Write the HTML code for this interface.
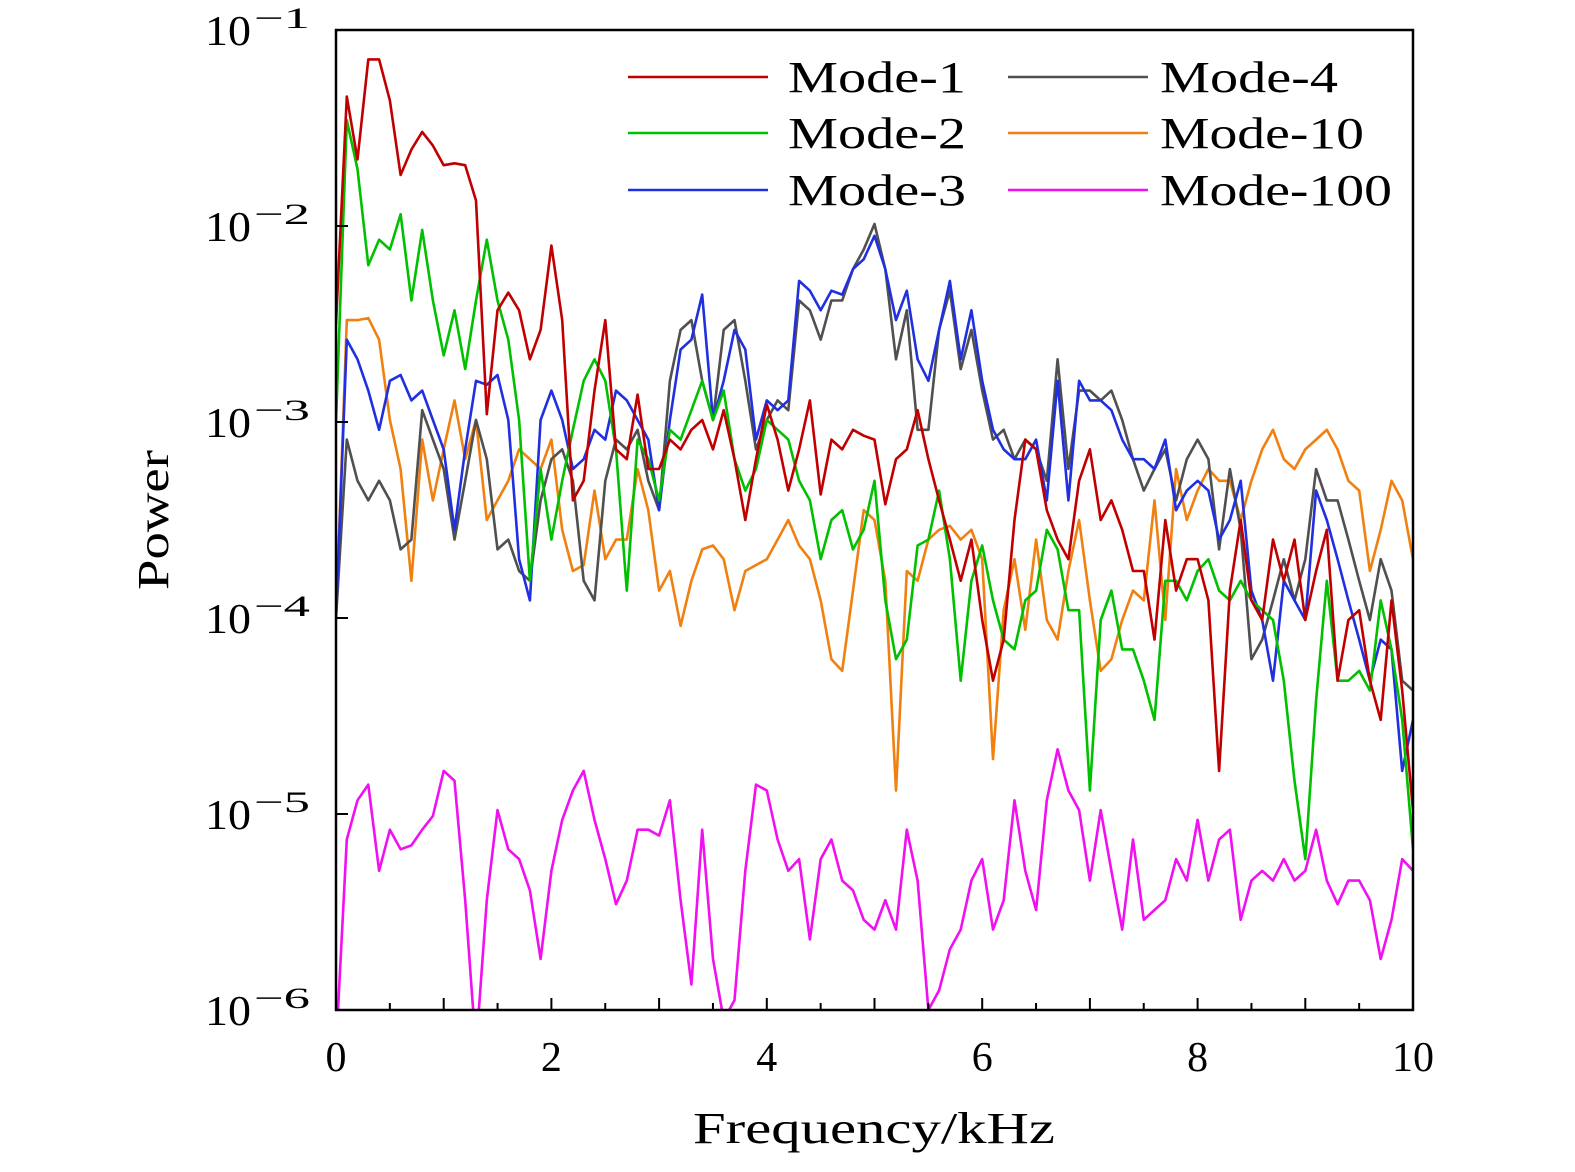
<!DOCTYPE html>
<html><head><meta charset="utf-8"><style>
body{margin:0;background:#fff;}
svg{display:block;font-family:"Liberation Serif",serif;}
</style></head><body>
<svg id="chart" width="1575" height="1172" viewBox="0 0 1575 1172" xmlns="http://www.w3.org/2000/svg">
<defs><clipPath id="plotclip"><rect x="336" y="30" width="1077" height="980"/></clipPath></defs>
<g id="series" clip-path="url(#plotclip)"></g>
<rect x="336" y="30" width="1077" height="980" fill="none" stroke="#000" stroke-width="2.5"/>
<g id="axes"></g>
<text x="693" y="1143" font-size="44" textLength="362" lengthAdjust="spacingAndGlyphs">Frequency/kHz</text>
<text x="168" y="520" font-size="44" text-anchor="middle" textLength="140" lengthAdjust="spacingAndGlyphs" transform="rotate(-90 168 520)">Power</text>
<g id="legend"></g>
</svg>
<script>
const xTicks = [0, 2, 4, 6, 8, 10];
const yExponents = [-1, -2, -3, -4, -5, -6];
const seriesNames = ["Mode-1", "Mode-2", "Mode-3", "Mode-4", "Mode-10", "Mode-100"];
const seriesColors = ["#c00000", "#00c000", "#2030e0", "#505050", "#f08010", "#f010f0"];
// log10(power), sampled every 0.1 kHz from 0 to 10 kHz
const mode1 = [-2.5,-1.34,-1.66,-1.15,-1.15,-1.36,-1.74,-1.61,-1.52,-1.59,-1.69,-1.68,-1.69,-1.87,-2.96,-2.43,-2.34,-2.43,-2.68,-2.53,-2.10,-2.48,-3.40,-3.30,-2.84,-2.48,-3.14,-3.19,-2.86,-3.24,-3.24,-3.09,-3.14,-3.04,-2.99,-3.14,-2.94,-3.19,-3.50,-3.19,-2.91,-3.09,-3.35,-3.14,-2.89,-3.37,-3.09,-3.14,-3.04,-3.07,-3.09,-3.42,-3.19,-3.14,-2.94,-3.19,-3.40,-3.60,-3.81,-3.60,-4.01,-4.32,-4.11,-3.50,-3.09,-3.14,-3.45,-3.60,-3.70,-3.30,-3.14,-3.50,-3.40,-3.55,-3.76,-3.76,-4.11,-3.50,-3.86,-3.70,-3.70,-3.91,-4.78,-3.86,-3.50,-3.91,-4.01,-3.60,-3.81,-3.60,-4.01,-3.76,-3.55,-4.32,-4.01,-3.96,-4.32,-4.52,-3.91,-4.37,-4.98];
const mode2 = [-3.0,-1.46,-1.71,-2.20,-2.07,-2.12,-1.94,-2.38,-2.02,-2.38,-2.66,-2.43,-2.73,-2.38,-2.07,-2.38,-2.58,-2.99,-3.81,-3.24,-3.60,-3.30,-3.04,-2.79,-2.68,-2.79,-3.14,-3.86,-3.09,-3.19,-3.40,-3.04,-3.09,-2.94,-2.79,-2.99,-2.84,-3.19,-3.35,-3.24,-2.99,-3.04,-3.09,-3.30,-3.40,-3.70,-3.50,-3.45,-3.65,-3.55,-3.30,-3.91,-4.21,-4.11,-3.63,-3.60,-3.35,-3.70,-4.32,-3.81,-3.63,-3.91,-4.11,-4.16,-3.91,-3.86,-3.55,-3.65,-3.96,-3.96,-4.88,-4.01,-3.86,-4.16,-4.16,-4.32,-4.52,-3.81,-3.81,-3.91,-3.76,-3.70,-3.86,-3.91,-3.81,-3.91,-3.96,-4.01,-4.32,-4.83,-5.23,-4.42,-3.81,-4.32,-4.32,-4.27,-4.37,-3.91,-4.16,-4.52,-5.18];
const mode3 = [-4.0,-2.58,-2.68,-2.84,-3.04,-2.79,-2.76,-2.89,-2.84,-2.99,-3.14,-3.55,-3.14,-2.79,-2.81,-2.76,-2.99,-3.70,-3.91,-2.99,-2.84,-2.99,-3.24,-3.19,-3.04,-3.09,-2.84,-2.89,-2.99,-3.09,-3.45,-2.99,-2.63,-2.58,-2.35,-2.99,-2.79,-2.53,-2.63,-3.09,-2.89,-2.94,-2.89,-2.28,-2.33,-2.43,-2.33,-2.35,-2.22,-2.17,-2.05,-2.22,-2.48,-2.33,-2.68,-2.79,-2.53,-2.28,-2.68,-2.43,-2.79,-3.04,-3.14,-3.19,-3.19,-3.09,-3.40,-2.79,-3.40,-2.79,-2.89,-2.89,-2.94,-3.09,-3.19,-3.19,-3.24,-3.09,-3.45,-3.35,-3.30,-3.35,-3.60,-3.50,-3.30,-3.86,-4.01,-4.32,-3.81,-3.91,-4.01,-3.35,-3.50,-3.70,-3.91,-4.11,-4.32,-4.11,-4.16,-4.78,-4.52];
const mode4 = [-4.0,-3.09,-3.30,-3.40,-3.30,-3.40,-3.65,-3.60,-2.94,-3.09,-3.24,-3.60,-3.30,-2.99,-3.19,-3.65,-3.60,-3.76,-3.81,-3.40,-3.19,-3.14,-3.30,-3.81,-3.91,-3.30,-3.09,-3.14,-3.04,-3.30,-3.45,-2.79,-2.53,-2.48,-2.79,-2.99,-2.53,-2.48,-2.79,-3.14,-2.99,-2.89,-2.94,-2.38,-2.43,-2.58,-2.38,-2.38,-2.22,-2.12,-1.99,-2.22,-2.68,-2.43,-3.04,-3.04,-2.53,-2.33,-2.73,-2.53,-2.84,-3.09,-3.04,-3.19,-3.09,-3.14,-3.30,-2.68,-3.24,-2.84,-2.84,-2.89,-2.84,-2.99,-3.19,-3.35,-3.24,-3.14,-3.40,-3.19,-3.09,-3.19,-3.65,-3.24,-3.55,-4.21,-4.11,-3.91,-3.70,-3.91,-3.70,-3.24,-3.40,-3.40,-3.60,-3.81,-4.01,-3.70,-3.86,-4.32,-4.37];
const mode10 = [-4.0,-2.48,-2.48,-2.47,-2.58,-2.99,-3.24,-3.81,-3.09,-3.40,-3.14,-2.89,-3.19,-2.99,-3.50,-3.40,-3.30,-3.14,-3.19,-3.24,-3.09,-3.55,-3.76,-3.73,-3.35,-3.70,-3.60,-3.60,-3.24,-3.45,-3.86,-3.76,-4.04,-3.81,-3.65,-3.63,-3.70,-3.96,-3.76,-3.73,-3.70,-3.60,-3.50,-3.63,-3.70,-3.91,-4.21,-4.27,-3.86,-3.45,-3.50,-3.81,-4.88,-3.76,-3.81,-3.60,-3.55,-3.53,-3.60,-3.55,-3.70,-4.72,-3.96,-3.70,-4.06,-3.60,-4.01,-4.11,-3.76,-3.50,-3.91,-4.27,-4.21,-4.01,-3.86,-3.91,-3.40,-4.01,-3.24,-3.50,-3.35,-3.24,-3.30,-3.30,-3.50,-3.30,-3.14,-3.04,-3.19,-3.24,-3.14,-3.09,-3.04,-3.14,-3.30,-3.35,-3.76,-3.55,-3.30,-3.40,-3.70];
const mode100 = [-6.2,-5.13,-4.93,-4.85,-5.29,-5.08,-5.18,-5.16,-5.08,-5.01,-4.78,-4.83,-5.44,-6.2,-5.44,-4.98,-5.18,-5.23,-5.39,-5.74,-5.29,-5.03,-4.88,-4.78,-5.03,-5.23,-5.46,-5.34,-5.08,-5.08,-5.11,-4.93,-5.44,-5.87,-5.08,-5.74,-6.05,-5.95,-5.29,-4.85,-4.88,-5.13,-5.29,-5.23,-5.64,-5.23,-5.13,-5.34,-5.39,-5.54,-5.59,-5.44,-5.59,-5.08,-5.34,-6.0,-5.90,-5.69,-5.59,-5.34,-5.23,-5.59,-5.44,-4.93,-5.29,-5.49,-4.93,-4.67,-4.88,-4.98,-5.34,-4.98,-5.29,-5.59,-5.13,-5.54,-5.49,-5.44,-5.23,-5.34,-5.03,-5.34,-5.13,-5.08,-5.54,-5.34,-5.29,-5.34,-5.23,-5.34,-5.29,-5.08,-5.34,-5.46,-5.34,-5.34,-5.44,-5.74,-5.54,-5.23,-5.29];

const NS = "http://www.w3.org/2000/svg";
const X0 = 336, X1 = 1413, Y0 = 30, Y1 = 1010;
function xScale(f){ return X0 + (f - 0) / 10 * (X1 - X0); }
function yScale(logP){ return Y0 + (-1 - logP) / 5 * (Y1 - Y0); }
function mk(tag, attrs, parent){ const e = document.createElementNS(NS, tag); for (const k in attrs) e.setAttribute(k, attrs[k]); parent.appendChild(e); return e; }

const allSeries = [mode1, mode2, mode3, mode4, mode10, mode100];
const seriesG = document.getElementById('series');
[4, 3, 2, 1, 0, 5].forEach(si => {
  const d = allSeries[si];
  const pts = d.map((v, i) => xScale(i * 10 / (d.length - 1)).toFixed(1) + ',' + yScale(v).toFixed(1)).join(' ');
  const pl = mk('polyline', {points: pts, fill: 'none', stroke: seriesColors[si], 'stroke-width': 2.6, 'stroke-linejoin': 'round'}, seriesG);
  
  
});

const axes = document.getElementById('axes');
xTicks.forEach(t => {
  const x = xScale(t);
  const tk = mk('line', {x1: x, x2: x, y1: Y1, y2: Y1 - 12, stroke: '#000', 'stroke-width': 2}, axes);
  
  
  const lb = mk('text', {x: x, y: 1071, 'font-size': 42, 'text-anchor': 'middle'}, axes);
  lb.textContent = t;
  
  
});
for (let m = 0.5; m < 10; m += 1) {
  const x = xScale(m);
  const tk = mk('line', {x1: x, x2: x, y1: Y1, y2: Y1 - 7, stroke: '#000', 'stroke-width': 2}, axes);
  
  
}
for (let m = 1; m < 10; m += 2) {
  const x = xScale(m);
  const tk = mk('line', {x1: x, x2: x, y1: Y1, y2: Y1 - 12, stroke: '#000', 'stroke-width': 2}, axes);
  
  
}
yExponents.forEach(e => {
  const y = yScale(e);
  const tk = mk('line', {x1: X0, x2: X0 + 12, y1: y, y2: y, stroke: '#000', 'stroke-width': 2}, axes);
  
  
  const lb = mk('text', {x: 205, y: y + 15, 'font-size': 42, textLength: 46, lengthAdjust: 'spacingAndGlyphs'}, axes);
  lb.textContent = '10';
  
  
  const sup = mk('text', {x: 254, y: y - 2, 'font-size': 30, textLength: 56, lengthAdjust: 'spacingAndGlyphs'}, axes);
  sup.textContent = '\u2212' + (-e);
  
  
});

const legend = document.getElementById('legend');
const legendPos = [[628,77],[628,133],[628,190],[1008,77],[1008,133],[1008,190]];
const legendTextWidths = [178, 178, 178, 178, 204, 232];
seriesNames.forEach((n, i) => {
  const [lx, ly] = legendPos[i];
  const g = mk('g', {}, legend);
  
  
  mk('line', {x1: lx, x2: lx + 140, y1: ly, y2: ly, stroke: seriesColors[i], 'stroke-width': 2.6}, g);
  const t = mk('text', {x: lx + (i < 3 ? 160 : 152), y: ly + 15, 'font-size': 44, textLength: legendTextWidths[i], lengthAdjust: 'spacingAndGlyphs'}, g);
  t.textContent = n;
});
</script>
</body></html>
